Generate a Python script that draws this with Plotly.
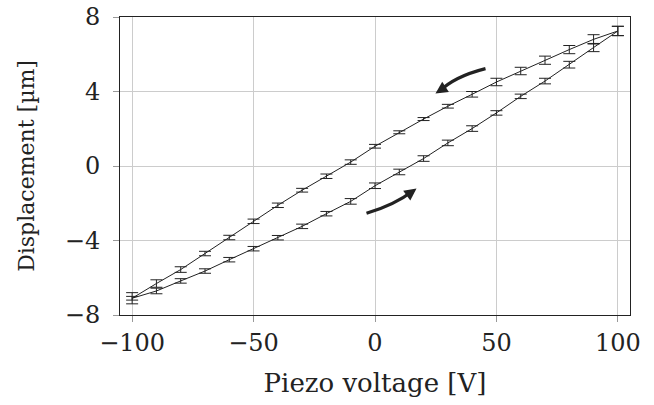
import plotly.graph_objects as go

voltage_up = [-100, -90, -80, -70, -60, -50, -40, -30, -20, -10, 0, 10, 20, 30, 40, 50, 60, 70, 80, 90, 100]
disp_up = [-7.1, -6.71, -6.17, -5.64, -5.03, -4.44, -3.85, -3.24, -2.56, -1.90, -1.06,
           -0.32, 0.40, 1.24, 2.01, 2.85, 3.74, 4.56, 5.44, 6.36, 7.25]
err_up = [0.1, 0.15, 0.12, 0.12, 0.12, 0.12, 0.12, 0.12, 0.12, 0.15, 0.15,
          0.15, 0.15, 0.15, 0.15, 0.12, 0.12, 0.15, 0.18, 0.22, 0.25]

voltage_down = [100, 90, 80, 70, 60, 50, 40, 30, 20, 10, 0, -10, -20, -30, -40, -50, -60, -70, -80, -90, -100]
disp_down = [7.25, 6.80, 6.25, 5.68, 5.10, 4.51, 3.85, 3.21, 2.52, 1.81, 1.06,
             0.21, -0.55, -1.30, -2.11, -2.97, -3.84, -4.70, -5.56, -6.31, -7.1]
err_down = [0.25, 0.25, 0.22, 0.22, 0.2, 0.2, 0.15, 0.1, 0.08, 0.08, 0.1,
            0.12, 0.12, 0.1, 0.12, 0.12, 0.12, 0.12, 0.15, 0.2, 0.3]

x_ticks = [-100, -50, 0, 50, 100]
y_ticks = [-8, -4, 0, 4, 8]

FONT = "DejaVu Serif"
INK = "#222222"
TXT = dict(family=FONT, size=24, color=INK)

fig = go.Figure()
for xs, ys, es in [(voltage_up, disp_up, err_up), (voltage_down, disp_down, err_down)]:
    fig.add_trace(go.Scatter(
        x=xs, y=ys, mode="lines",
        line=dict(color=INK, width=1),
        error_y=dict(type="data", array=es, visible=True, color=INK, thickness=1, width=6),
        showlegend=False,
    ))

# curved direction arrows (annotations)
fig.add_shape(type="path", path="M 45.5 5.23 Q 32.5 4.8 26.5 4.0",
              line=dict(color=INK, width=3.2), xref="x", yref="y")
fig.add_annotation(x=24.9, y=3.89, ax=28.5, ay=4.2, xref="x", yref="y", axref="x", ayref="y",
                   text="", showarrow=True, arrowhead=2, arrowsize=1.1, arrowwidth=2.2, arrowcolor=INK)
fig.add_shape(type="path", path="M -3.5 -2.54 Q 8.5 -2.05 15.4 -1.35",
              line=dict(color=INK, width=3.2), xref="x", yref="y")
fig.add_annotation(x=17.1, y=-1.21, ax=13.5, ay=-1.55, xref="x", yref="y", axref="x", ayref="y",
                   text="", showarrow=True, arrowhead=2, arrowsize=1.1, arrowwidth=2.2, arrowcolor=INK)

axis_common = dict(
    showgrid=True, gridcolor="#cccccc", gridwidth=1,
    showline=True, linecolor=INK, linewidth=1, mirror=True,
    ticks="outside", ticklen=6, tickcolor="#999999", tickwidth=1,
    zeroline=False, automargin=False,
    tickfont=TXT,
)

fig.update_xaxes(range=[-105, 105], tickvals=x_ticks,
                 title=dict(text="Piezo voltage [V]", standoff=18,
                            font=dict(family=FONT, size=26, color=INK)), **axis_common)
fig.update_yaxes(range=[-8, 8], tickvals=y_ticks, ticklabelstandoff=8,
                 title=dict(text="Displacement [µm]", standoff=24,
                            font=dict(family=FONT, size=22, color=INK)), **axis_common)

fig.update_layout(
    width=654, height=405,
    font=TXT,
    margin=dict(l=120, r=24, t=17, b=90),
    paper_bgcolor="white", plot_bgcolor="white",
)

fig.write_html("out.html")
